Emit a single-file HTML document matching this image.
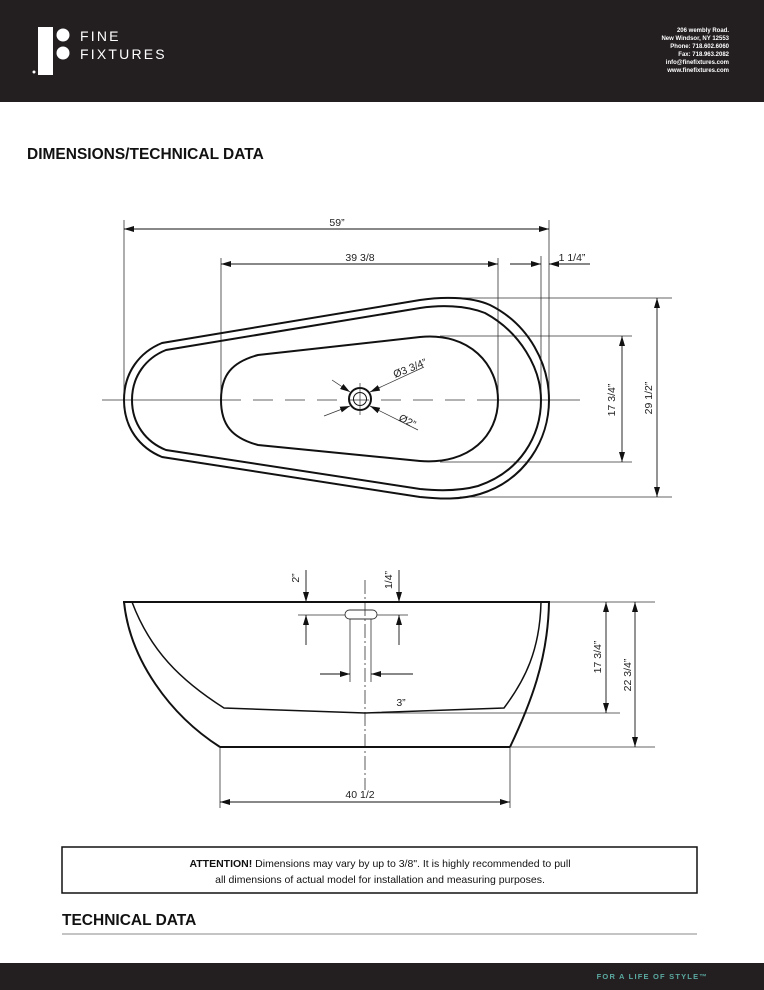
<!DOCTYPE html>
<html><head><meta charset="utf-8"><style>
html,body{margin:0;padding:0;background:#fff;}
body{width:764px;height:990px;position:relative;overflow:hidden;font-family:"Liberation Sans",sans-serif;}
</style></head><body>
<svg width="764" height="990" viewBox="0 0 764 990" xmlns="http://www.w3.org/2000/svg" style="position:absolute;left:0;top:0">
<defs>
<marker id="a" viewBox="0 0 10 6" refX="10" refY="3" markerWidth="10" markerHeight="6" orient="auto-start-reverse" markerUnits="userSpaceOnUse"><path d="M0,0L10,3L0,6z" fill="#111"/></marker>
</defs>
<rect x="0" y="0" width="764" height="102" fill="#231f20"/>
<rect x="38" y="27" width="15" height="48" fill="#fff"/>
<circle cx="63" cy="35" r="6.5" fill="#fff"/>
<circle cx="63" cy="53" r="6.5" fill="#fff"/>
<circle cx="34" cy="72" r="1.5" fill="#fff"/>
<text x="80" y="41" fill="#fff" font-size="14" letter-spacing="2.2">FINE</text>
<text x="80" y="59" fill="#fff" font-size="14" letter-spacing="2.2">FIXTURES</text>
<g fill="#fff" font-size="6" font-weight="bold" text-anchor="end">
<text x="729" y="32">206 wembly Road.</text>
<text x="729" y="40">New Windsor, NY 12553</text>
<text x="729" y="48">Phone: 718.602.6060</text>
<text x="729" y="56">Fax: 718.963.2082</text>
<text x="729" y="64">info@finefixtures.com</text>
<text x="729" y="72">www.finefixtures.com</text>
</g>
<text x="27" y="159" font-size="15.5" font-weight="bold" fill="#111">DIMENSIONS/TECHNICAL DATA</text>

<g stroke="#333" stroke-width="0.8" fill="none">
<line x1="124" y1="220" x2="124" y2="400"/>
<line x1="549" y1="220" x2="549" y2="400"/>
<line x1="541" y1="256" x2="541" y2="400"/>
<line x1="221" y1="258" x2="221" y2="400"/>
<line x1="498" y1="258" x2="498" y2="400"/>
<line x1="460" y1="298" x2="672" y2="298"/>
<line x1="460" y1="497" x2="672" y2="497"/>
<line x1="440" y1="336" x2="632" y2="336"/>
<line x1="440" y1="462" x2="632" y2="462"/>
<line x1="102" y1="400" x2="221" y2="400"/>
<line x1="221" y1="400" x2="498" y2="400" stroke-dasharray="20,12"/>
<line x1="498" y1="400" x2="580" y2="400"/>
</g>
<g stroke="#111" stroke-width="0.9" fill="none">
<line x1="124" y1="229" x2="549" y2="229" marker-start="url(#a)" marker-end="url(#a)"/>
<line x1="221" y1="264" x2="498" y2="264" marker-start="url(#a)" marker-end="url(#a)"/>
<line x1="510" y1="264" x2="541" y2="264" marker-end="url(#a)"/>
<line x1="590" y1="264" x2="549" y2="264" marker-end="url(#a)"/>
<line x1="622" y1="336" x2="622" y2="462" marker-start="url(#a)" marker-end="url(#a)"/>
<line x1="657" y1="298" x2="657" y2="497" marker-start="url(#a)" marker-end="url(#a)"/>
</g>
<g stroke="#111" stroke-width="2" fill="none">
<path d="M124,400 C124,372 140,352 162,343 L420,300 C440,297 470,296 490,305 C530,325 549,365 549,400 C549,440 525,480 480,494 C460,500 440,499 420,497 L162,457 C140,448 124,428 124,400 Z"/>
<path d="M132,400 C132,376 146,358 166,350 L420,308 C440,305 465,305 485,313 C520,332 541,368 541,400 C541,436 520,472 478,486 C460,491 440,491 420,489 L166,450 C146,442 132,424 132,400 Z"/>
<path d="M221,400 C221,375 232,362 258,355 L420,337 C470,332 498,365 498,400 C498,435 470,465 420,461 L258,445 C232,438 221,425 221,400 Z"/>
<circle cx="360" cy="399" r="11"/>
</g>
<circle cx="360" cy="399" r="6.5" fill="none" stroke="#111" stroke-width="1"/>
<g stroke="#333" stroke-width="0.7">
<line x1="360" y1="383" x2="360" y2="415"/>
<line x1="332" y1="380" x2="350" y2="392" marker-end="url(#a)"/>
<line x1="424" y1="367" x2="370" y2="392" marker-end="url(#a)"/>
<line x1="324" y1="416" x2="350" y2="406" marker-end="url(#a)"/>
<line x1="418" y1="430" x2="370" y2="406" marker-end="url(#a)"/>
</g>
<g font-size="10.5" fill="#222">
<text x="337" y="226" text-anchor="middle">59”</text>
<text x="360" y="261" text-anchor="middle">39 3/8</text>
<text x="572" y="261" text-anchor="middle">1 1/4”</text>
<text x="395" y="378" transform="rotate(-22 395 378)">Ø3 3/4”</text>
<text x="398" y="420" transform="rotate(28 398 420)">Ø2”</text>
<text x="615" y="400" text-anchor="middle" transform="rotate(-90 615 400)">17 3/4”</text>
<text x="652" y="398" text-anchor="middle" transform="rotate(-90 652 398)">29 1/2”</text>
</g>

<g stroke="#333" stroke-width="0.8" fill="none">
<line x1="549" y1="602" x2="655" y2="602"/>
<line x1="365" y1="713" x2="620" y2="713"/>
<line x1="510" y1="747" x2="655" y2="747"/>
<line x1="220" y1="747" x2="220" y2="808"/>
<line x1="510" y1="747" x2="510" y2="808"/>
<line x1="298" y1="615" x2="345" y2="615"/>
<line x1="377" y1="615" x2="408" y2="615"/>
<line x1="350" y1="619" x2="350" y2="682"/>
<line x1="371" y1="619" x2="371" y2="682"/>
<line x1="365" y1="580" x2="365" y2="790" stroke-dasharray="14,3,2,3"/>
</g>
<g stroke="#111" stroke-width="0.9" fill="none">
<line x1="306" y1="570" x2="306" y2="602" marker-end="url(#a)"/>
<line x1="306" y1="645" x2="306" y2="615" marker-end="url(#a)"/>
<line x1="399" y1="570" x2="399" y2="602" marker-end="url(#a)"/>
<line x1="399" y1="645" x2="399" y2="615" marker-end="url(#a)"/>
<line x1="320" y1="674" x2="350" y2="674" marker-end="url(#a)"/>
<line x1="413" y1="674" x2="371" y2="674" marker-end="url(#a)"/>
<line x1="606" y1="602" x2="606" y2="713" marker-start="url(#a)" marker-end="url(#a)"/>
<line x1="635" y1="602" x2="635" y2="747" marker-start="url(#a)" marker-end="url(#a)"/>
<line x1="220" y1="802" x2="510" y2="802" marker-start="url(#a)" marker-end="url(#a)"/>
</g>
<rect x="345" y="610" width="32" height="9" rx="4.5" fill="none" stroke="#333" stroke-width="0.9"/>
<g stroke="#111" stroke-width="2" fill="none">
<line x1="123" y1="602" x2="550" y2="602"/>
<path d="M124,602 C130,660 170,715 220,747"/>
<line x1="220" y1="747" x2="510" y2="747"/>
<path d="M549,602 C548,660 530,705 510,747"/>
<path d="M132,602 C150,650 180,680 224,708 L365,713 L504,708 C525,680 540,650 541,602" stroke-width="1.5"/>
</g>
<g font-size="10.5" fill="#222">
<text x="299" y="578" text-anchor="middle" transform="rotate(-90 299 578)">2”</text>
<text x="392" y="580" text-anchor="middle" transform="rotate(-90 392 580)">1/4”</text>
<text x="401" y="706" text-anchor="middle">3”</text>
<text x="601" y="657" text-anchor="middle" transform="rotate(-90 601 657)">17 3/4”</text>
<text x="631" y="675" text-anchor="middle" transform="rotate(-90 631 675)">22 3/4”</text>
<text x="360" y="798" text-anchor="middle">40 1/2</text>
</g>

<rect x="62" y="847" width="635" height="46" fill="none" stroke="#111" stroke-width="1.5"/>
<text x="380" y="867" font-size="10.5" fill="#111" text-anchor="middle"><tspan font-weight="bold">ATTENTION!</tspan> Dimensions may vary by up to 3/8". It is highly recommended to pull</text>
<text x="380" y="883" font-size="10.5" fill="#111" text-anchor="middle">all dimensions of actual model for installation and measuring purposes.</text>
<text x="62" y="925" font-size="15.5" font-weight="bold" fill="#111">TECHNICAL DATA</text>
<line x1="62" y1="934" x2="697" y2="934" stroke="#888" stroke-width="1"/>
<rect x="0" y="963" width="764" height="27" fill="#231f20"/>
<text x="708" y="979" font-size="7.5" fill="#5aa8a0" text-anchor="end" letter-spacing="1.2" font-weight="bold">FOR A LIFE OF STYLE™</text>
</svg>
</body></html>
